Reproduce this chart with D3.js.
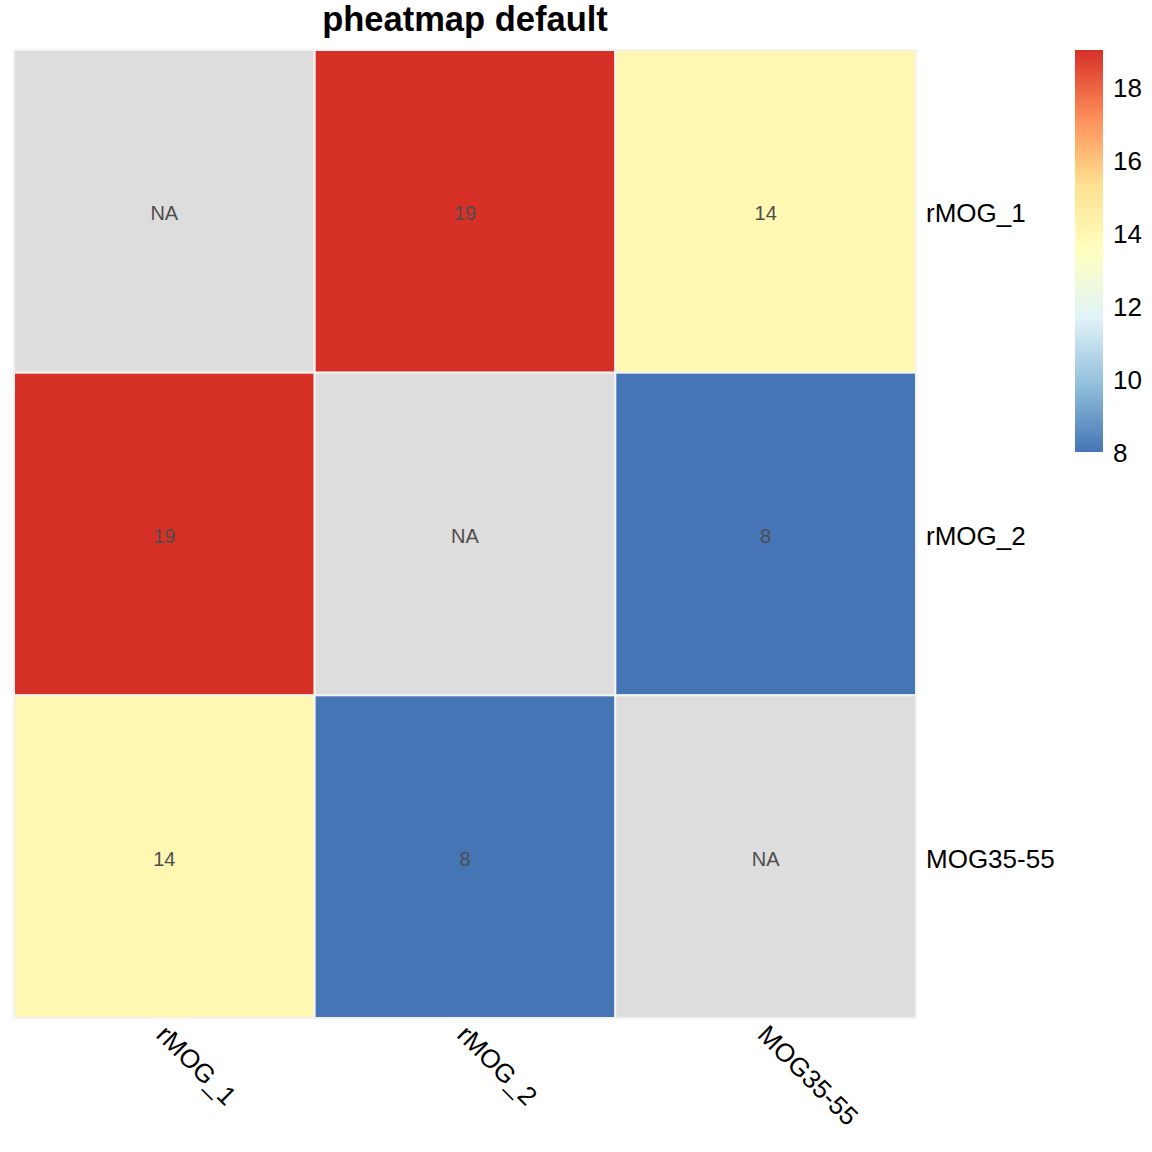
<!DOCTYPE html>
<html>
<head>
<meta charset="utf-8">
<script src="https://cdn.jsdelivr.net/npm/d3@7"></script>
<style>
body{margin:0;background:#fff;}
text{font-family:"Liberation Sans",Arial,sans-serif;}
</style>
</head>
<body>
<div id="chart"></div>
<script>
// data
var rows = ["rMOG_1", "rMOG_2", "MOG35-55"];
var cols = ["rMOG_1", "rMOG_2", "MOG35-55"];
var values = [
	[null, 19, 14],
	[19, null, 8],
	[14, 8, null]
];
var legendTicks = [8, 10, 12, 14, 16, 18];
var palette = ["#4575B4", "#91BFDB", "#E0F3F8", "#FFFFBF", "#FEE090", "#FC8D59", "#D73027"];

var svg = d3.select("#chart").append("svg")
	.attr("width", 1152)
	.attr("height", 1152);

var x = d3.scaleBand().domain(cols).range([14, 916]);
var y = d3.scaleBand().domain(rows).range([50, 1018]);

var color = d3.scaleLinear()
	.domain(d3.range(palette.length).map(function(i){ return 8 + i * (19 - 8) / (palette.length - 1); }))
	.range(palette)
	.interpolate(d3.interpolateRgb);

// title
svg.append("text").attr("x", 465).attr("y", 31)
	.attr("text-anchor", "middle")
	.style("font-size", "34.5px").style("font-weight", "bold")
	.text("pheatmap default");

// cells
var cells = [];
values.forEach(function(r, i){
	r.forEach(function(v, j){ cells.push({row: rows[i], col: cols[j], v: v}); });
});

svg.selectAll("rect.cell").data(cells).enter().append("rect")
	.attr("class", "cell")
	.attr("x", function(d){ return x(d.col); })
	.attr("y", function(d){ return y(d.row); })
	.attr("width", x.bandwidth())
	.attr("height", y.bandwidth())
	.attr("fill", function(d){ return d.v == null ? "#DDDDDD" : color(d.v); })
	.attr("stroke", "#F2F2F2")
	.attr("stroke-width", 2);

svg.selectAll("text.num").data(cells).enter().append("text")
	.attr("class", "num")
	.attr("x", function(d){ return x(d.col) + x.bandwidth() / 2; })
	.attr("y", function(d){ return y(d.row) + y.bandwidth() / 2 + 2; })
	.attr("text-anchor", "middle")
	.attr("dominant-baseline", "central")
	.style("font-size", "20px")
	.style("fill", "#4D4D4D")
	.text(function(d){ return d.v == null ? "NA" : d.v; });

// row labels
svg.selectAll("text.rowlab").data(rows).enter().append("text")
	.attr("class", "rowlab")
	.attr("x", 926)
	.attr("y", function(d){ return y(d) + y.bandwidth() / 2 + 2; })
	.attr("dominant-baseline", "central")
	.style("font-size", "26px")
	.text(function(d){ return d; });

// column labels
svg.selectAll("text.collab").data(cols).enter().append("text")
	.attr("class", "collab")
	.attr("transform", function(d){ return "translate(" + (x(d) + x.bandwidth() / 2 - 3) + ",1030) rotate(45)"; })
	.attr("dominant-baseline", "central")
	.style("font-size", "26px")
	.text(function(d){ return d; });

// legend
var ly = d3.scaleLinear().domain([8, 19]).range([452, 50]);
var defs = svg.append("defs");
var grad = defs.append("linearGradient").attr("id", "lg")
	.attr("x1", 0).attr("y1", 1).attr("x2", 0).attr("y2", 0);
palette.forEach(function(c, i){
	grad.append("stop").attr("offset", i / (palette.length - 1)).attr("stop-color", c);
});
svg.append("rect").attr("x", 1075).attr("y", ly(19))
	.attr("width", 28).attr("height", ly(8) - ly(19))
	.attr("fill", "url(#lg)");

svg.selectAll("text.tick").data(legendTicks).enter().append("text")
	.attr("class", "tick")
	.attr("x", 1113)
	.attr("y", function(d){ return ly(d) + 1; })
	.attr("dominant-baseline", "central")
	.style("font-size", "26px")
	.text(function(d){ return d; });
</script>
</body>
</html>
